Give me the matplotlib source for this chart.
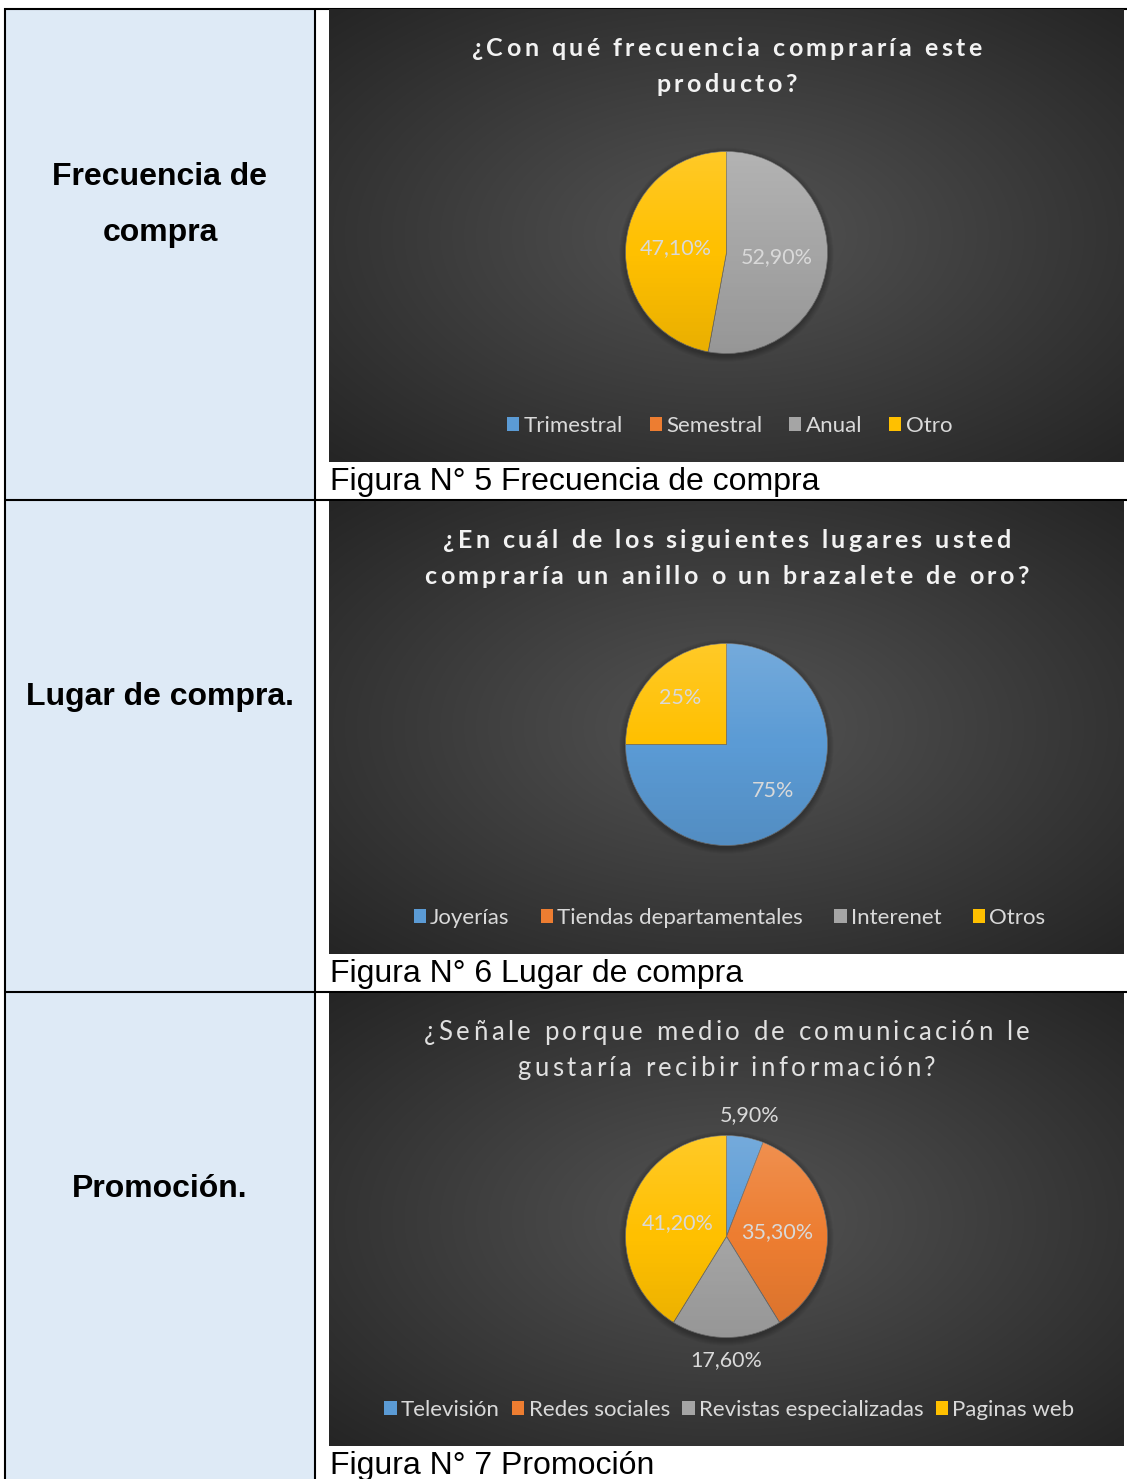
import numpy as np
import matplotlib
matplotlib.use("Agg")
import matplotlib.pyplot as plt
from matplotlib import font_manager
from matplotlib.font_manager import FontProperties
from matplotlib.ft2font import FT2Font, LoadFlags
from matplotlib.patches import Rectangle, Circle, Patch

W, H, DPI = 1127, 1479, 100

# ---- table text ----
row_labels = [["Frecuencia de", "compra"], ["Lugar de compra."], ["Promoción."]]
captions = [
    "Figura N° 5 Frecuencia de compra",
    "Figura N° 6 Lugar de compra",
    "Figura N° 7 Promoción",
]

# ---- chart data ----
freq_title = ["¿Con qué frecuencia compraría este", "producto?"]
freq_cats = ["Trimestral", "Semestral", "Anual", "Otro"]
freq_vals = [0.0, 0.0, 52.9, 47.1]

lugar_title = ["¿En cuál de los siguientes lugares usted",
               "compraría un anillo o un brazalete de oro?"]
lugar_cats = ["Joyerías", "Tiendas departamentales", "Interenet", "Otros"]
lugar_vals = [75.0, 0.0, 0.0, 25.0]

promo_title = ["¿Señale porque medio de comunicación le",
               "gustaría recibir información?"]
promo_cats = ["Televisión", "Redes sociales", "Revistas especializadas", "Paginas web"]
promo_vals = [5.9, 35.3, 17.6, 41.2]

PIE_COLORS = ["#5B9BD5", "#ED7D31", "#A5A5A5", "#FFC000"]
LEFT_FILL = "#DEEAF6"
BG_CENTER = np.array([0x54, 0x54, 0x54]) / 255
BG_EDGE = np.array([0x25, 0x25, 0x25]) / 255
TXT_LIGHT = "#D9D9D9"
UI_FONT = "Lato"
TABLE_FONT = "Liberation Sans"

fig = plt.figure(figsize=(W / DPI, H / DPI), dpi=DPI)


def px_rect(x0, y0, x1, y1):
    return [x0 / W, 1 - y1 / H, (x1 - x0) / W, (y1 - y0) / H]


def tracked_text(ax, xc, y, s, size, spacing, weight, color):
    """Centered text line with extra letter spacing (in px)."""
    prop = FontProperties(family=UI_FONT, weight=weight, size=size)
    font = FT2Font(font_manager.findfont(prop))
    font.set_size(size, DPI)
    advs = [font.load_char(ord(ch), flags=LoadFlags.NO_HINTING).linearHoriAdvance / 65536
            for ch in s]
    total = sum(advs) + spacing * (len(s) - 1)
    x = xc - total / 2
    for ch, a in zip(s, advs):
        if not ch.isspace():
            ax.text(x, y, ch, fontproperties=prop, color=color, ha="left", va="baseline")
        x += a + spacing


# ---- table frame ----
base = fig.add_axes([0, 0, 1, 1])
base.set_xlim(0, W)
base.set_ylim(H, 0)
base.axis("off")
base.add_patch(Rectangle((6, 9), 309, H - 9, facecolor=LEFT_FILL, edgecolor="none"))
lw = 1.5
base.plot([4, W], [8.5, 8.5], color="black", lw=lw, solid_capstyle="butt")
base.plot([5, 5], [8, H], color="black", lw=lw, solid_capstyle="butt")
base.plot([315, 315], [8, H], color="black", lw=lw, solid_capstyle="butt")
for yl in (499.5, 991.5):
    base.plot([4, W], [yl, yl], color="black", lw=lw, solid_capstyle="butt")

label_y = [[185, 241], [705], [1197]]
for lines, ys in zip(row_labels, label_y):
    for s, yy in zip(lines, ys):
        base.text(160, yy, s, family=TABLE_FONT, weight="bold", size=23,
                  ha="center", va="baseline", color="black")

CHART_X0, CHART_X1, CHART_H = 329, 1124, 453
CHART_TOPS = [9, 501, 993]
for top, cap in zip(CHART_TOPS, captions):
    base.text(330, top + CHART_H + 28, cap, family=TABLE_FONT, size=23,
              ha="left", va="baseline", color="black")


def draw_chart(top, title, title_bold, cats, vals, fmt, label_r, outside, colspace):
    x0, x1, y0, y1 = CHART_X0, CHART_X1, top, top + CHART_H
    cx = (x0 + x1) / 2
    ax = fig.add_axes(px_rect(x0, y0, x1, y1))
    # radial background gradient
    u, v = np.meshgrid(np.linspace(-1, 1, 300), np.linspace(-1, 1, 180))
    d = np.clip(np.sqrt(u ** 2 + v ** 2) / np.sqrt(2), 0, 1)
    img = BG_CENTER + (BG_EDGE - BG_CENTER) * d[..., None]
    ax.imshow(img, extent=(x0, x1, y1, y0), aspect="auto", interpolation="bilinear")
    ax.set_xlim(x0, x1)
    ax.set_ylim(y1, y0)
    ax.axis("off")

    # title
    if title_bold:
        weight, tcolor, tsize, tspace = "bold", "#F2F2F2", 18, 3.4
    else:
        weight, tcolor, tsize, tspace = "normal", "#E0E0E0", 18.5, 3.5
    for i, line in enumerate(title):
        tracked_text(ax, cx, top + 47 + 35.5 * i, line, tsize, tspace, weight, tcolor)

    # legend
    handles = [Patch(facecolor=c, edgecolor="none") for c in PIE_COLORS]
    ax.legend(handles, cats, loc="center", bbox_to_anchor=(cx + 3, top + 417),
              bbox_transform=ax.transData, ncol=4, frameon=False,
              prop=FontProperties(family=UI_FONT, size=16), labelcolor=TXT_LIGHT,
              handlelength=0.55, handleheight=0.55, handletextpad=0.2,
              columnspacing=colspace, borderpad=0, borderaxespad=0)

    # pie
    r, pad = 101, 1.5
    pcy = top + 243.5
    pax = fig.add_axes(px_rect(cx - r * pad, pcy - r * pad, cx + r * pad, pcy + r * pad))
    for k in range(6):
        pax.add_patch(Circle((0, -0.02), 1.0 + 0.01 * (k + 1), facecolor="black",
                             edgecolor="none", alpha=0.045, zorder=0))
    wedges, _ = pax.pie(vals, colors=PIE_COLORS, startangle=90, counterclock=False,
                        radius=1, wedgeprops=dict(edgecolor="#6A6A6A", linewidth=0.5))
    for w, val in zip(wedges, vals):
        w.set_zorder(1)
        if val == 0:
            w.set_linewidth(0)
    # soft vertical shading over the slices
    t = np.linspace(0, 1, 256)
    shade = np.zeros((256, 1, 4))
    top_half = t < 0.5
    shade[top_half, 0, :3] = 1
    shade[top_half, 0, 3] = 0.16 * (1 - 2 * t[top_half])
    shade[~top_half, 0, 3] = 0.09 * (2 * t[~top_half] - 1)
    im = pax.imshow(shade, extent=(-1, 1, -1, 1), aspect="auto", zorder=2)
    im.set_clip_path(Circle((0, 0), 1, transform=pax.transData))
    for w, val, out in zip(wedges, vals, outside):
        if val == 0:
            continue
        ang = np.deg2rad((w.theta1 + w.theta2) / 2)
        rr = 1.22 if out else label_r
        pax.text(rr * np.cos(ang), rr * np.sin(ang), fmt(val), ha="center", va="center",
                 family=UI_FONT, size=15.5, color=TXT_LIGHT, zorder=3)
    pax.set_xlim(-pad, pad)
    pax.set_ylim(-pad, pad)
    pax.set_aspect("equal")
    pax.axis("off")


pct2 = lambda v: f"{v:.2f}%".replace(".", ",")
pct0 = lambda v: f"{v:.0f}%"

draw_chart(CHART_TOPS[0], freq_title, True, freq_cats, freq_vals, pct2, 0.5,
           [False] * 4, 1.2)
draw_chart(CHART_TOPS[1], lugar_title, True, lugar_cats, lugar_vals, pct0, 0.65,
           [False] * 4, 1.4)
draw_chart(CHART_TOPS[2], promo_title, False, promo_cats, promo_vals, pct2, 0.5,
           [True, False, True, False], 0.55)

fig.savefig("out.png", dpi=DPI)
